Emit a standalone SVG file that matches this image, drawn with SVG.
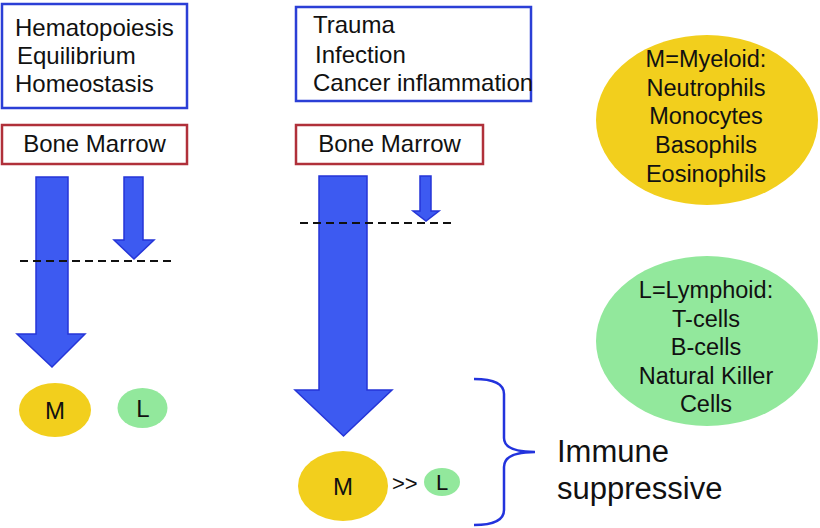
<svg xmlns="http://www.w3.org/2000/svg" width="820" height="528" viewBox="0 0 820 528">
<style>
text{font-family:"Liberation Sans",Arial,sans-serif;fill:#111}
.t{font-size:24px}
.c{font-size:23.5px;text-anchor:middle}
.box{fill:#fff;stroke:#2b3fd6;stroke-width:2.5}
.bm{fill:#fff;stroke:#b0303a;stroke-width:2.5}
.arr{fill:#3d5af1;stroke:#2535d8;stroke-width:1.5;stroke-linejoin:miter}
.dash{stroke:#111;stroke-width:2;stroke-dasharray:8 5;fill:none}
.my{fill:#f2cf1d}
.ly{fill:#92e89c}
</style>
<g id="context-normal">
<rect class="box" x="2" y="4" width="185" height="104"/>
<text class="t" x="15" y="36">Hematopoiesis</text>
<text class="t" x="17" y="64">Equilibrium</text>
<text class="t" x="15" y="92">Homeostasis</text>
</g>
<g id="bone-marrow-1">
<rect class="bm" x="2" y="125" width="185" height="39"/>
<text class="t" x="94.5" y="152" text-anchor="middle">Bone Marrow</text>
</g>
<g id="context-stress">
<rect class="box" x="296" y="7" width="235" height="94"/>
<text class="t" x="313" y="33">Trauma</text>
<text class="t" x="315" y="63">Infection</text>
<text class="t" x="313" y="91">Cancer inflammation</text>
</g>
<g id="bone-marrow-2">
<rect class="bm" x="296" y="125" width="187" height="39"/>
<text class="t" x="389.5" y="152" text-anchor="middle">Bone Marrow</text>
</g>
<g id="connectors">
<polygon class="arr" points="36,177 68,177 68,334 85,334 52,367 17,334 36,334"/>
<polygon class="arr" points="124,177 143,177 143,240 154,240 134,259 114,240 124,240"/>
<line class="dash" x1="20" y1="261" x2="173" y2="261"/>
<polygon class="arr" points="319,176 367,176 367,390 392,390 343.5,436 295,390 319,390"/>
<polygon class="arr" points="420,176 431,176 431,211 439,211 426,221 413,211 420,211"/>
<line class="dash" x1="300" y1="223" x2="452" y2="223"/>
<path d="M474,379 Q504,379 504,394 L504,438 Q504,452 535,452 Q504,452 504,467 L504,510 Q504,525 474,525" fill="none" stroke="#2233dd" stroke-width="2.5"/>
</g>
<g id="m-left">
<ellipse class="my" cx="55" cy="410" rx="36" ry="27"/>
<text x="55" y="419" font-size="24" text-anchor="middle">M</text>
</g>
<g id="l-left">
<ellipse class="ly" cx="142.5" cy="408" rx="25" ry="20"/>
<text x="143" y="417" font-size="24" text-anchor="middle">L</text>
</g>
<g id="m-right">
<ellipse class="my" cx="343" cy="486" rx="45" ry="35"/>
<text x="343" y="495" font-size="24" text-anchor="middle">M</text>
</g>
<text x="392" y="491" font-size="22">&gt;&gt;</text>
<g id="l-right">
<ellipse class="ly" cx="442" cy="482" rx="18" ry="14"/>
<text x="442" y="490" font-size="22" text-anchor="middle">L</text>
</g>
<g id="immune-suppressive">
<text x="557" y="462" font-size="31">Immune</text>
<text x="557" y="499" font-size="31">suppressive</text>
</g>
<g id="myeloid">
<ellipse class="my" cx="707" cy="120" rx="111" ry="85"/>
<text class="c" x="706" y="67">M=Myeloid:</text>
<text class="c" x="706" y="96">Neutrophils</text>
<text class="c" x="706" y="124">Monocytes</text>
<text class="c" x="706" y="153">Basophils</text>
<text class="c" x="706" y="182">Eosinophils</text>
</g>
<g id="lymphoid">
<ellipse class="ly" cx="707" cy="341" rx="111" ry="85"/>
<text class="c" x="706" y="298">L=Lymphoid:</text>
<text class="c" x="706" y="327">T-cells</text>
<text class="c" x="706" y="355">B-cells</text>
<text class="c" x="706" y="384">Natural Killer</text>
<text class="c" x="706" y="412">Cells</text>
</g>
</svg>
